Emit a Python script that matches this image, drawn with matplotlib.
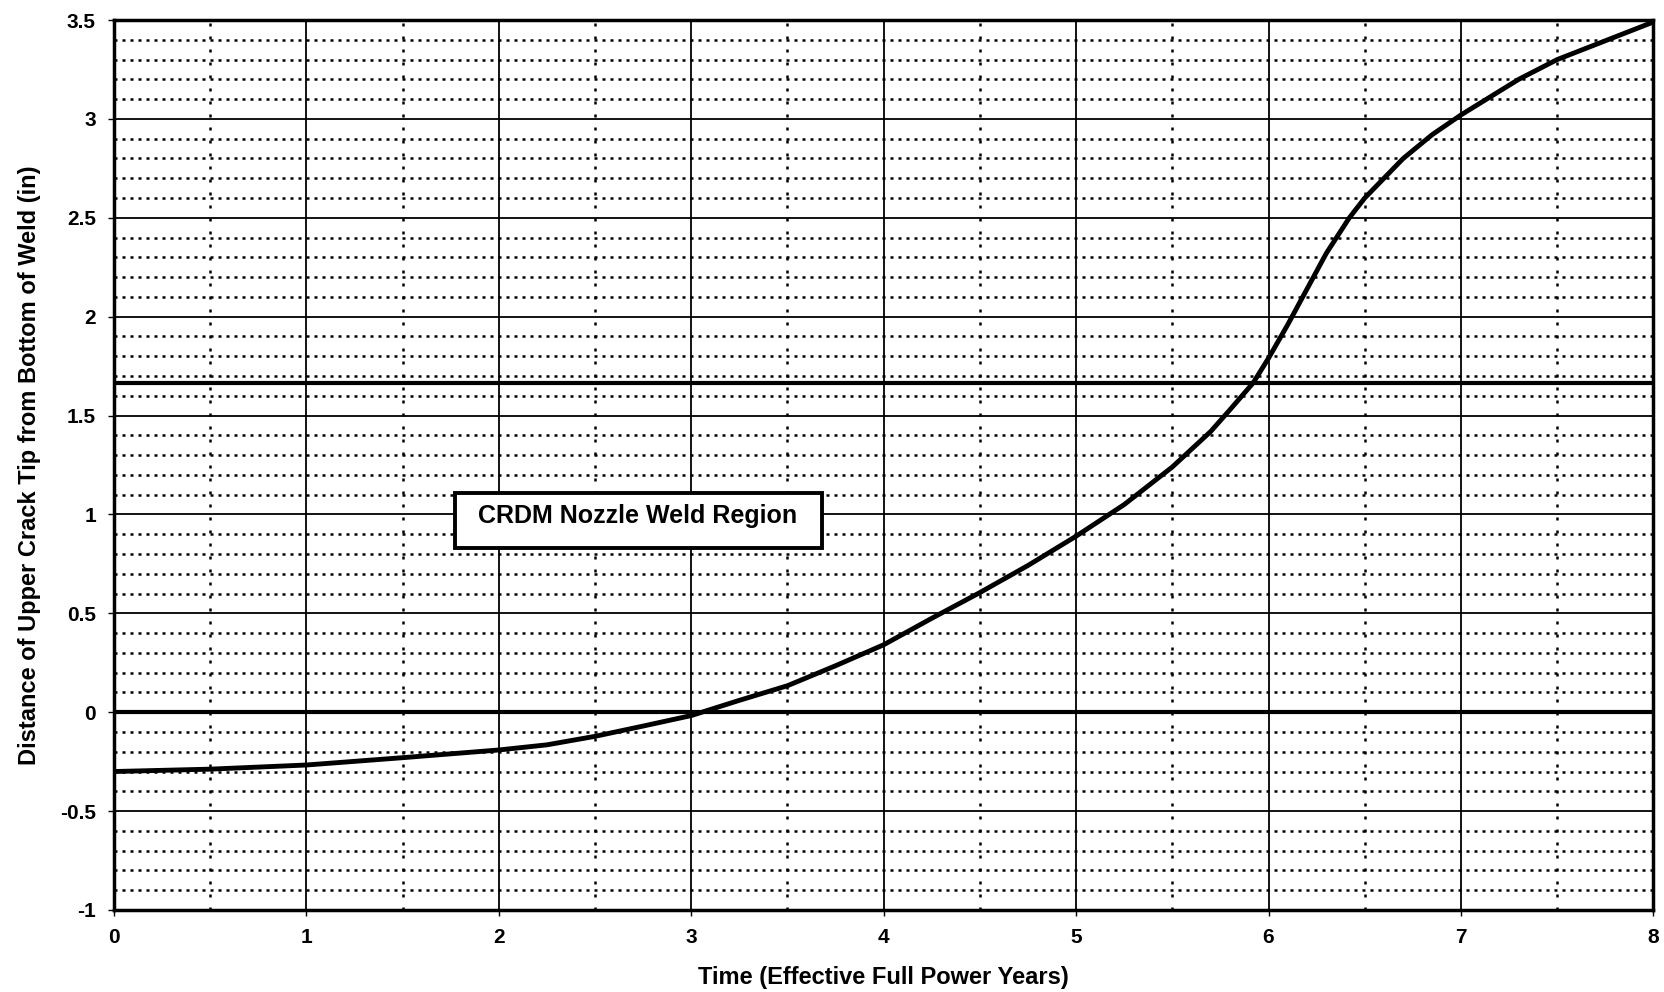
import numpy as np
import matplotlib
matplotlib.use('Agg')
import matplotlib.pyplot as plt
from matplotlib.patches import Rectangle
from matplotlib.ticker import MultipleLocator, FormatStrFormatter

plt.rcParams['font.family'] = ['Liberation Sans', 'DejaVu Sans']
plt.rcParams['axes.unicode_minus'] = False

# crack tip position vs time
years = [0.0, 0.5, 1.0, 1.5, 2.0, 2.25, 2.5, 2.75, 3.0, 3.25, 3.5, 3.75, 4.0,
         4.25, 4.5, 4.75, 5.0, 5.25, 5.5, 5.7, 5.8, 5.92, 6.0, 6.1, 6.2, 6.3,
         6.42, 6.5, 6.6, 6.7, 6.85, 7.0, 7.15, 7.3, 7.5, 8.0]
distance = [-0.30, -0.288, -0.267, -0.23, -0.191, -0.165, -0.122, -0.07, -0.017,
            0.06, 0.134, 0.235, 0.341, 0.475, 0.605, 0.742, 0.89, 1.05, 1.24,
            1.42, 1.53, 1.665, 1.79, 1.96, 2.14, 2.32, 2.50, 2.60, 2.70, 2.80,
            2.92, 3.02, 3.11, 3.20, 3.30, 3.49]

# weld region limits
weld_bottom = 0.0
weld_top = 1.665
box_label = 'CRDM Nozzle Weld Region'

fig = plt.figure(figsize=(16.65, 9.92), dpi=100)
ax = fig.add_axes([0.0685, 0.0827, 0.9245, 0.8971])

ax.set_xlim(0, 8)
ax.set_ylim(-1, 3.5)
ax.xaxis.set_major_locator(MultipleLocator(1))
ax.xaxis.set_minor_locator(MultipleLocator(0.5))
ax.yaxis.set_major_locator(MultipleLocator(0.5))
ax.yaxis.set_minor_locator(MultipleLocator(0.1))
ax.yaxis.set_major_formatter(FormatStrFormatter('%g'))
ax.xaxis.set_major_formatter(FormatStrFormatter('%g'))

ax.grid(which='major', color='black', linestyle='-', linewidth=1.3)
ax.grid(which='minor', axis='y', color='black', linestyle=(0, (1.2, 2.0)), linewidth=1.8)
ax.grid(which='minor', axis='x', color='black', linestyle=(0, (1.2, 4)), linewidth=1.8)
ax.set_axisbelow(True)

ax.axhline(weld_bottom, color='black', linewidth=3)
ax.axhline(weld_top, color='black', linewidth=3)

ax.plot(years, distance, color='black', linewidth=3.5, zorder=5)

# label box
ax.add_patch(Rectangle((1.77, 0.83), 1.91, 0.28, facecolor='white',
                       edgecolor='black', linewidth=2.8, zorder=6))
ax.text(2.72, 0.99, box_label, ha='center', va='center', fontsize=18,
        fontweight='bold', zorder=7)

for s in ax.spines.values():
    s.set_linewidth(2.5)

ax.tick_params(which='major', direction='out', length=4, width=1, labelsize=15, pad=9)
ax.tick_params(which='minor', length=0)
for lbl in ax.get_xticklabels() + ax.get_yticklabels():
    lbl.set_fontweight('bold')

ax.set_xlabel('Time (Effective Full Power Years)', fontsize=17, fontweight='bold', labelpad=14)
ax.set_ylabel('Distance of Upper Crack Tip from Bottom of Weld (in)', fontsize=17,
              fontweight='bold', labelpad=14)

fig.savefig('out.png', dpi=100)
